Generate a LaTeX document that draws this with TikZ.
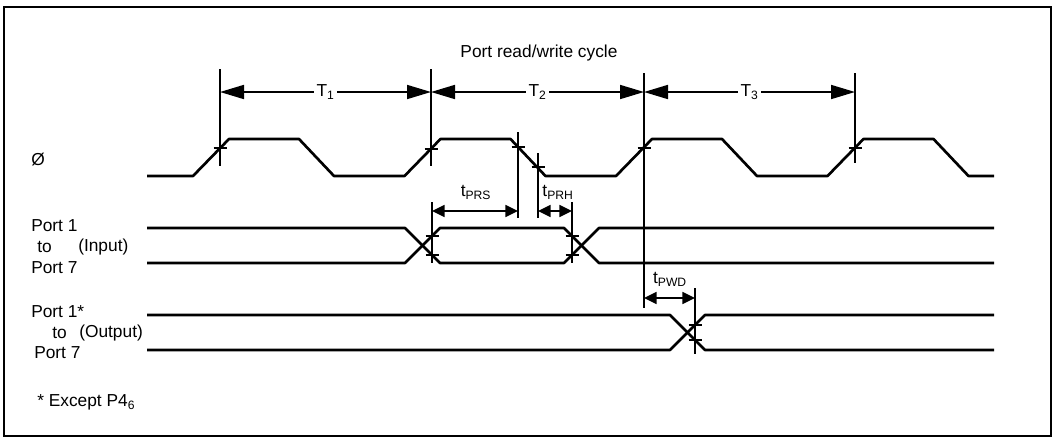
\documentclass[tikz,border=0pt]{standalone}
\usepackage{fontspec}
\setmainfont{Liberation Sans}
\usetikzlibrary{arrows.meta}
\newcommand{\clkcyc}[1]{ -- (#1,\yLow) -- ({#1+36},\yHigh) -- ({#1+106},\yHigh) -- ({#1+141},\yLow) }

\begin{document}
\begin{tikzpicture}[x=0.75pt, y=-0.75pt,
	wave/.style = {line width=2pt, line join=round},
	guide/.style = {line width=1.4pt},
	tickline/.style = {line width=1.5pt},
	dimbig/.style = {line width=1.3pt, {Triangle[length=18pt,width=10.5pt]}-{Triangle[length=18pt,width=10.5pt]}},
	dimsmall/.style = {line width=1.3pt, {Triangle[length=9.5pt,width=9pt]}-{Triangle[length=9.5pt,width=9pt]}},
	lbl/.style = {font=\fontsize{13}{15}\selectfont, inner sep=0pt},
]
	\useasboundingbox (0,0) rectangle (1053,440);
	\def \yLow {176};
	\def \yHigh {139};
	\def \xStart {147};
	\def \xEnd {994};
	\def \inTop {228};
	\def \inBot {263};
	\def \outTop {315};
	\def \outBot {350};

	\coordinate (frameNW) at (4,7);
	\coordinate (frameSE) at (1051,436);
	\draw[line width=1.5pt] (frameNW) rectangle (frameSE);

%signal names
	\node[lbl] (title) at (539,53) {Port read/write cycle};
	\node[lbl] (phi) at (38,160) {Ø};
	\node[lbl, anchor=west] (inA) at (31,226) {Port 1};
	\node[lbl, anchor=west] (inB) at (37,247) {to};
	\node[lbl, anchor=west] (inC) at (78,247) {(Input)};
	\node[lbl, anchor=west] (inD) at (31,268) {Port 7};
	\node[lbl, anchor=west] (outA) at (31,312) {Port 1*};
	\node[lbl, anchor=west] (outB) at (52,333) {to};
	\node[lbl, anchor=west] (outC) at (79,333) {(Output)};
	\node[lbl, anchor=west] (outD) at (34,353) {Port 7};
	\node[lbl, anchor=west] (note) at (37,402) {* Except P4\textsubscript{6}};

%waveforms
	\draw[wave] (\xStart,\yLow) \clkcyc{193} \clkcyc{404.5} \clkcyc{616} \clkcyc{827.5} -- (\xEnd,\yLow);
	\draw[wave] (\xStart,\inTop) -- (405,\inTop) -- (440,\inBot) -- (564,\inBot) -- (599,\inTop) -- (\xEnd,\inTop);
	\draw[wave] (\xStart,\inBot) -- (405,\inBot) -- (440,\inTop) -- (564,\inTop) -- (599,\inBot) -- (\xEnd,\inBot);
	\draw[wave] (\xStart,\outTop) -- (670,\outTop) -- (705,\outBot) -- (\xEnd,\outBot);
	\draw[wave] (\xStart,\outBot) -- (670,\outBot) -- (705,\outTop) -- (\xEnd,\outTop);

%reference lines
	\draw[guide] (220,69) -- (220,166);
	\draw[guide] (431,69) -- (431,166);
	\draw[guide] (432,202) -- (432,263);
	\draw[guide] (518,132) -- (518,218);
	\draw[guide] (538,153) -- (538,218);
	\draw[guide] (572,202) -- (572,263);
	\draw[guide] (644,73) -- (644,308);
	\draw[guide] (855,73) -- (855,163);
	\draw[guide] (695,288) -- (695,354);

%crossing marks
	\foreach \x/\y in {220/148, 431/148.5, 644/148, 855/148, 518/146.5, 538/166.5,
		432/236, 432/255, 572/236, 572/255, 695/325, 695/340}
		\draw[tickline] ({\x-6.5},\y) -- ({\x+6.5},\y);

%cycle times
	\coordinate (T0) at (220,92);
	\coordinate (T1) at (431,92);
	\coordinate (T2) at (644,92);
	\coordinate (T3) at (855,92);
	\draw[dimbig] (T0) -- node[lbl, fill=white, inner sep=2pt] {T\textsubscript{1}} (T1);
	\draw[dimbig] (T1) -- node[lbl, fill=white, inner sep=2pt] {T\textsubscript{2}} (T2);
	\draw[dimbig] (T2) -- node[lbl, fill=white, inner sep=2pt] {T\textsubscript{3}} (T3);

%setup, hold and delay
	\coordinate (prsA) at (432,211);
	\coordinate (prsB) at (518,211);
	\coordinate (prhA) at (538,211);
	\coordinate (prhB) at (572,211);
	\coordinate (pwdA) at (644,298);
	\coordinate (pwdB) at (695,298);
	\draw[dimsmall] (prsA) -- (prsB);
	\draw[dimsmall] (prhA) -- (prhB);
	\draw[dimsmall] (pwdA) -- (pwdB);
	\node[lbl] (tprs) at (476,192) {t\textsubscript{PRS}};
	\node[lbl] (tprh) at (558,192) {t\textsubscript{PRH}};
	\node[lbl] (tpwd) at (670,279) {t\textsubscript{PWD}};
\end{tikzpicture}
\end{document}
